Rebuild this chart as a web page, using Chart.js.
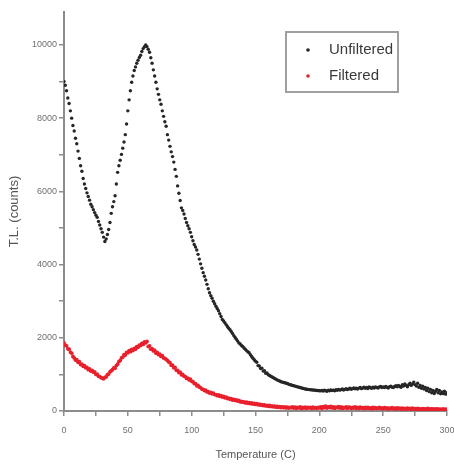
<!DOCTYPE html>
<html>
<head>
<meta charset="utf-8">
<script src="https://cdn.jsdelivr.net/npm/chart.js@4.4.1/dist/chart.umd.min.js"></script>
<style>
  body { margin: 0; background: #fff; }
  #wrap { width: 454px; height: 468px; }
</style>
</head>
<body>
<div id="wrap"><canvas id="myChart" width="454" height="468"></canvas></div>
<script>
// TL glow curve, one reading per degree, 0..300 C
var seriesNames = ['Unfiltered', 'Filtered'];
var xTickLabels = [0, 50, 100, 150, 200, 250, 300];
var xTicks = [0, 25, 50, 75, 100, 125, 150, 175, 200, 225, 250, 275, 300];
var yTickLabels = [0, 2000, 4000, 6000, 8000, 10000];
var yTicks = [0, 1000, 2000, 3000, 4000, 5000, 6000, 7000, 8000, 9000, 10000];

var unfiltered = [
  9000, 8900, 8750, 8550, 8400, 8200, 8000, 7800, 7650, 7450,   // 0
  7300, 7100, 6900, 6700, 6550, 6350, 6200, 6080, 5960, 5860,   // 10
  5760, 5650, 5580, 5500, 5420, 5350, 5290, 5180, 5080, 4980,   // 20
  4880, 4750, 4630, 4700, 4820, 4960, 5150, 5400, 5580, 5720,   // 30
  5880, 6200, 6520, 6700, 6850, 7010, 7180, 7350, 7550, 7840,   // 40
  8200, 8500, 8750, 8980, 9150, 9300, 9400, 9500, 9580, 9660,   // 50
  9720, 9820, 9900, 9950, 10000, 9950, 9880, 9800, 9650, 9500,  // 60
  9320, 9150, 8980, 8800, 8650, 8500, 8380, 8200, 8050, 7900,   // 70
  7780, 7550, 7400, 7230, 7080, 6950, 6800, 6600, 6410, 6150,   // 80
  5950, 5750, 5550, 5480, 5380, 5260, 5150, 5060, 4980, 4880,   // 90
  4760, 4650, 4550, 4480, 4400, 4280, 4150, 4020, 3900, 3780,   // 100
  3680, 3580, 3460, 3340, 3230, 3150, 3080, 3000, 2930, 2860,   // 110
  2800, 2740, 2660, 2580, 2500, 2460, 2410, 2360, 2310, 2260,   // 120
  2220, 2170, 2120, 2060, 2010, 1960, 1910, 1860, 1830, 1790,   // 130
  1760, 1720, 1690, 1650, 1620, 1590, 1540, 1490, 1440, 1400,   // 140
  1360, 1330, 1240, 1230, 1160, 1170, 1090, 1100, 1030, 1040,   // 150
  990, 970, 950, 930, 910, 890, 870, 850, 830, 820,             // 160
  800, 790, 780, 770, 760, 750, 730, 720, 710, 700,             // 170
  690, 680, 670, 660, 650, 640, 630, 620, 610, 600,             // 180
  595, 590, 585, 580, 578, 575, 570, 565, 560, 560,             // 190
  555, 550, 560, 545, 570, 555, 540, 565, 550, 575,             // 200
  560, 570, 555, 580, 565, 590, 570, 585, 600, 575,             // 210
  590, 610, 585, 600, 620, 595, 610, 630, 605, 620,             // 220
  600, 625, 640, 610, 630, 650, 620, 640, 615, 660,             // 230
  635, 620, 650, 630, 660, 640, 625, 655, 670, 640,             // 240
  660, 640, 670, 650, 630, 665, 680, 650, 640, 670,             // 250
  690, 660, 700, 670, 650, 720, 680, 740, 700, 660,             // 260
  720, 760, 700, 740, 790, 720, 680, 760, 650, 700,             // 270
  620, 680, 600, 640, 560, 620, 530, 590, 500, 560,             // 280
  480, 540, 590, 500, 560, 470, 520, 480, 540, 460,             // 290
  500                                                           // 300
];

var filtered = [
  1860, 1800, 1780, 1700, 1690, 1610, 1580, 1490, 1450, 1390,   // 0
  1400, 1330, 1350, 1270, 1280, 1220, 1240, 1180, 1190, 1130,   // 10
  1150, 1090, 1110, 1060, 1070, 1000, 1010, 950, 940, 910,      // 20
  900, 880, 920, 930, 990, 1010, 1070, 1100, 1130, 1180,        // 30
  1170, 1240, 1280, 1350, 1380, 1450, 1470, 1540, 1530, 1600,   // 40
  1590, 1650, 1620, 1680, 1650, 1710, 1690, 1760, 1740, 1800,   // 50
  1790, 1850, 1820, 1890, 1860, 1900, 1760, 1780, 1690, 1700,   // 60
  1640, 1660, 1580, 1600, 1540, 1550, 1490, 1510, 1450, 1440,   // 70
  1410, 1380, 1340, 1320, 1250, 1250, 1180, 1190, 1110, 1110,   // 80
  1050, 1060, 990, 1000, 950, 940, 890, 900, 850, 870,          // 90
  810, 800, 750, 750, 690, 700, 650, 640, 600, 590,             // 100
  560, 570, 520, 530, 490, 510, 470, 490, 450, 450,             // 110
  420, 440, 400, 420, 380, 400, 360, 380, 340, 350,             // 120
  320, 340, 300, 320, 290, 300, 270, 290, 250, 260,             // 130
  240, 250, 220, 240, 210, 230, 200, 220, 190, 210,             // 140
  180, 200, 170, 190, 160, 175, 150, 165, 140, 155,             // 150
  130, 150, 120, 140, 115, 130, 105, 125, 100, 120,             // 160
  95, 115, 90, 110, 85, 105, 80, 100, 90, 110,                  // 170
  80, 105, 75, 100, 85, 110, 70, 95, 80, 105,                   // 180
  75, 100, 85, 95, 70, 105, 80, 90, 75, 100,                    // 190
  85, 110, 70, 120, 90, 130, 80, 110, 95, 125,                  // 200
  85, 115, 75, 105, 90, 120, 80, 110, 70, 100,                  // 210
  85, 115, 75, 105, 95, 70, 100, 80, 110, 75,                   // 220
  95, 70, 105, 80, 90, 65, 100, 75, 95, 70,                     // 230
  85, 60, 95, 70, 90, 65, 80, 100, 70, 85,                      // 240
  60, 90, 70, 85, 55, 80, 65, 90, 60, 75,                       // 250
  55, 85, 65, 75, 50, 80, 60, 70, 45, 75,                       // 260
  60, 70, 50, 80, 55, 65, 45, 70, 55, 60,                       // 270
  40, 65, 50, 60, 45, 70, 40, 55, 50, 60,                       // 280
  35, 55, 45, 60, 40, 50, 35, 55, 40, 50,                       // 290
  30                                                            // 300
];

// temperature of each reading (index = degrees C)
var temperatures = unfiltered.map(function(v, i){ return i; });

function toPoints(values){
  return values.map(function(v, i){ return {x: temperatures[i], y: v}; });
}

function fixedTicks(list){
  return function(scale){
    scale.ticks = list.map(function(v){ return {value: v}; });
  };
}

// legend box drawn inside the plot, like the original
var boxLegend = {
  id: 'boxLegend',
  afterDraw: function(chart){
    var ctx = chart.ctx;
    ctx.save();
    ctx.strokeStyle = '#a0a0a0';
    ctx.lineWidth = 2;
    ctx.strokeRect(286, 32, 112, 60);
    ctx.font = '15px "Liberation Sans", Arial, sans-serif';
    ctx.textBaseline = 'middle';
    chart.data.datasets.forEach(function(ds, i){
      var y = 50 + i * 26;
      ctx.fillStyle = ds.backgroundColor;
      ctx.beginPath();
      ctx.arc(308, y, 1.8, 0, Math.PI * 2);
      ctx.fill();
      ctx.fillStyle = '#3a3a3a';
      ctx.fillText(ds.label, 329, y);
    });
    ctx.restore();
  }
};

function renderChart(){
  var ctx = document.getElementById('myChart').getContext('2d');
  new Chart(ctx, {
    type: 'scatter',
    data: {
      datasets: [{
        label: seriesNames[0],
        data: toPoints(unfiltered),
        backgroundColor: '#262626',
        borderWidth: 0,
        pointRadius: 1.7
      }, {
        label: seriesNames[1],
        data: toPoints(filtered),
        backgroundColor: '#e8202c',
        borderWidth: 0,
        pointRadius: 1.9
      }]
    },
    options: {
      responsive: false,
      animation: false,
      layout: { padding: { top: 12, right: 7, left: 0, bottom: 0 } },
      plugins: { legend: { display: false }, tooltip: { enabled: false } },
      scales: {
        x: {
          type: 'linear',
          min: 0, max: 300,
          border: { display: true, color: '#8c8c8c', width: 2 },
          grid: { drawOnChartArea: false, drawTicks: true, tickLength: 5, color: '#8c8c8c', lineWidth: 1.5 },
          afterBuildTicks: fixedTicks(xTicks),
          ticks: {
            maxRotation: 0,
            autoSkip: false,
            padding: 9,
            color: '#707070',
            font: { size: 9, family: '"Liberation Sans", Arial, sans-serif' },
            callback: function(v){ return xTickLabels.indexOf(v) >= 0 ? String(v) : ''; }
          },
          title: {
            display: true,
            text: 'Temperature (C)',
            color: '#555',
            font: { size: 11, family: '"Liberation Sans", Arial, sans-serif' },
            padding: { top: 0, bottom: 6 }
          },
          afterFit: function(s){ s.height = 57; s.paddingLeft = 0; s.paddingRight = 0; }
        },
        y: {
          min: 0, max: 10900,
          border: { display: true, color: '#8c8c8c', width: 2 },
          grid: { drawOnChartArea: false, drawTicks: true, tickLength: 5, color: '#8c8c8c', lineWidth: 1.5 },
          afterBuildTicks: fixedTicks(yTicks),
          ticks: {
            autoSkip: false,
            padding: 2,
            color: '#707070',
            font: { size: 9, family: '"Liberation Sans", Arial, sans-serif' },
            callback: function(v){ return yTickLabels.indexOf(v) >= 0 ? String(v) : ''; }
          },
          title: {
            display: true,
            text: 'T.L. (counts)',
            color: '#555',
            font: { size: 13, family: '"Liberation Sans", Arial, sans-serif' },
            padding: { top: 7, bottom: 7 }
          },
          afterFit: function(s){ s.width = 64; s.paddingTop = 0; s.paddingBottom = 0; }
        }
      }
    },
    plugins: [boxLegend]
  });
}

document.addEventListener('DOMContentLoaded', renderChart);
</script>
</body>
</html>
